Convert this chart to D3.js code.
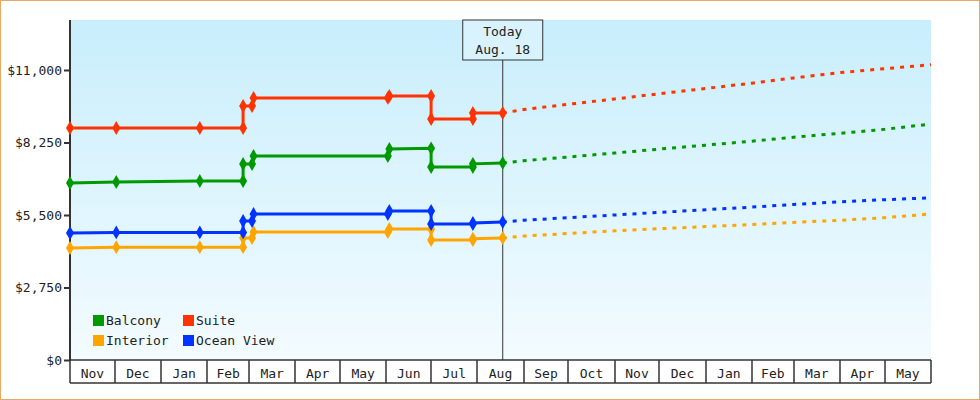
<!DOCTYPE html><html><head><meta charset="utf-8">
<script src="https://d3js.org/d3.v7.min.js"></script>
<style>body{margin:0;background:#fff}svg{display:block}text{font-family:"DejaVu Sans Mono",monospace;fill:#222}</style>
</head><body><svg id="c" width="980" height="400"></svg>
<script>
const seriesNames=["Balcony","Suite","Interior","Ocean View"];
const colors={"Balcony":"#009900","Suite":"#ff3300","Interior":"#ffa500","Ocean View":"#0033ff"};
const yTicks=[0,2750,5500,8250,11000];
const monthLabels=["Nov","Dec","Jan","Feb","Mar","Apr","May","Jun","Jul","Aug","Sep","Oct","Nov","Dec","Jan","Feb","Mar","Apr","May"];
const histDates=["2012-11-01","2012-12-02","2013-01-27","2013-02-25","2013-02-25","2013-03-03","2013-03-04","2013-06-02","2013-06-03","2013-07-01","2013-07-01","2013-07-29","2013-07-29","2013-08-18"];
const balcony=[6713,6751,6790,6790,7434,7434,7738,7738,8003,8030,7320,7320,7440,7472];
const suite=[8800,8800,8800,8800,9634,9634,9940,9940,10014,10014,9141,9141,9369,9369];
const interior=[4248,4280,4280,4280,4627,4627,4855,4855,4969,4969,4551,4551,4600,4627];
const oceanView=[4817,4840,4840,4840,5272,5272,5538,5538,5651,5651,5158,5158,5200,5234];
const projDates=["2013-08-18","2013-09-01","2013-10-01","2013-11-01","2013-12-01","2014-01-01","2014-02-01","2014-03-01","2014-04-01","2014-05-01","2014-06-01"];
const projBalcony=[7472,7560,7700,7850,8000,8150,8300,8450,8600,8750,8950];
const projSuite=[9369,9500,9700,9900,10100,10300,10500,10700,10900,11050,11200];
const projInterior=[4627,4700,4800,4900,4980,5060,5140,5220,5300,5400,5540];
const projOceanView=[5234,5300,5400,5500,5600,5700,5800,5900,6000,6080,6150];
const todayDate="2013-08-18";

const svg=d3.select("#c");
const p=d3.timeParse("%Y-%m-%d");
const L=70,R=931,T=20,B=360;
const x=d3.scaleTime().domain([p("2012-11-01"),p("2014-06-01")]).range([L,R]);
const y=d3.scaleLinear().domain([0,11000]).range([B,70]);
svg.append("rect").attr("x",0.5).attr("y",0.5).attr("width",979).attr("height",399).attr("fill","#fff").attr("stroke","#e8a860");
const g=svg.append("defs").append("linearGradient").attr("id","bg").attr("x1",0).attr("x2",0).attr("y1",0).attr("y2",1);
g.append("stop").attr("offset",0).attr("stop-color","#c8eefc");
g.append("stop").attr("offset",1).attr("stop-color","#f3fbff");
svg.append("rect").attr("x",L).attr("y",T).attr("width",R-L).attr("height",B-T).attr("fill","url(#bg)");
// y axis
const ya=svg.append("g").attr("transform",`translate(${L},0)`).call(d3.axisLeft(y).tickValues(yTicks).tickSize(6).tickFormat(d=>"$"+d3.format(",")(d)));
ya.select(".domain").remove();
ya.selectAll("line").attr("stroke","#333").attr("stroke-width",2);
ya.selectAll("text").attr("font-size",13).attr("fill","#333").attr("x",-8);
svg.append("line").attr("x1",L).attr("x2",L).attr("y1",T).attr("y2",B+1).attr("stroke","#333").attr("stroke-width",2);
// x axis months
const months=d3.timeMonth.range(p("2012-11-01"),p("2014-06-01"));
const xa=svg.append("g");
xa.append("line").attr("x1",L).attr("x2",R).attr("y1",B).attr("y2",B).attr("stroke","#333").attr("stroke-width",1.5);
xa.append("line").attr("x1",L).attr("x2",R).attr("y1",383).attr("y2",383).attr("stroke","#333").attr("stroke-width",1.5);
months.concat([p("2014-06-01")]).forEach(m=>xa.append("line").attr("x1",Math.round(x(m))).attr("x2",Math.round(x(m))).attr("y1",B).attr("y2",383).attr("stroke","#333").attr("stroke-width",1.5));
months.forEach((m,i)=>xa.append("text").attr("x",(x(m)+x(d3.timeMonth.offset(m,1)))/2).attr("y",378).attr("text-anchor","middle").attr("font-size",13).text(monthLabels[i]));
// today
const tx=x(p(todayDate));
svg.append("line").attr("x1",tx).attr("x2",tx).attr("y1",T).attr("y2",B).attr("stroke","#333").attr("stroke-width",1);
svg.append("rect").attr("x",tx-40).attr("y",T).attr("width",80).attr("height",40).attr("fill","#d8f3fd").attr("stroke","#333");
svg.append("text").attr("x",tx).attr("y",T+16).attr("text-anchor","middle").attr("font-size",13).attr("fill","#333").text("Today");
svg.append("text").attr("x",tx).attr("y",T+34).attr("text-anchor","middle").attr("font-size",13).attr("fill","#333").text("Aug. 18");
// series
const hist={"Balcony":balcony,"Suite":suite,"Interior":interior,"Ocean View":oceanView};
const proj={"Balcony":projBalcony,"Suite":projSuite,"Interior":projInterior,"Ocean View":projOceanView};
const line=d3.line().x(d=>x(d[0])).y(d=>y(d[1]));
["Interior","Ocean View","Balcony","Suite"].forEach(n=>{
  const c=colors[n];
  const pd=projDates.map((d,i)=>[p(d),proj[n][i]]);
  svg.append("path").attr("d",line(pd)).attr("fill","none").attr("stroke",c).attr("stroke-width",3).attr("stroke-dasharray","4,6");
  const hd=histDates.map((d,i)=>[p(d),hist[n][i]]);
  svg.append("path").attr("d",line(hd)).attr("fill","none").attr("stroke",c).attr("stroke-width",3);
  svg.selectAll(null).data(hd).enter().append("path").attr("transform",d=>`translate(${x(d[0])},${y(d[1])})`).attr("d",d3.symbol(d3.symbolDiamond,55)).attr("fill",c);
});
// legend
const lg=[["Balcony",93,320],["Suite",183,320],["Interior",93,340],["Ocean View",183,340]];
lg.forEach(([n,lx,ly])=>{
  svg.append("rect").attr("x",lx).attr("y",ly-5).attr("width",11).attr("height",11).attr("fill",colors[n]);
  svg.append("text").attr("x",lx+13).attr("y",ly+5).attr("font-size",13).attr("fill","#333").text(n);
});
</script></body></html>
